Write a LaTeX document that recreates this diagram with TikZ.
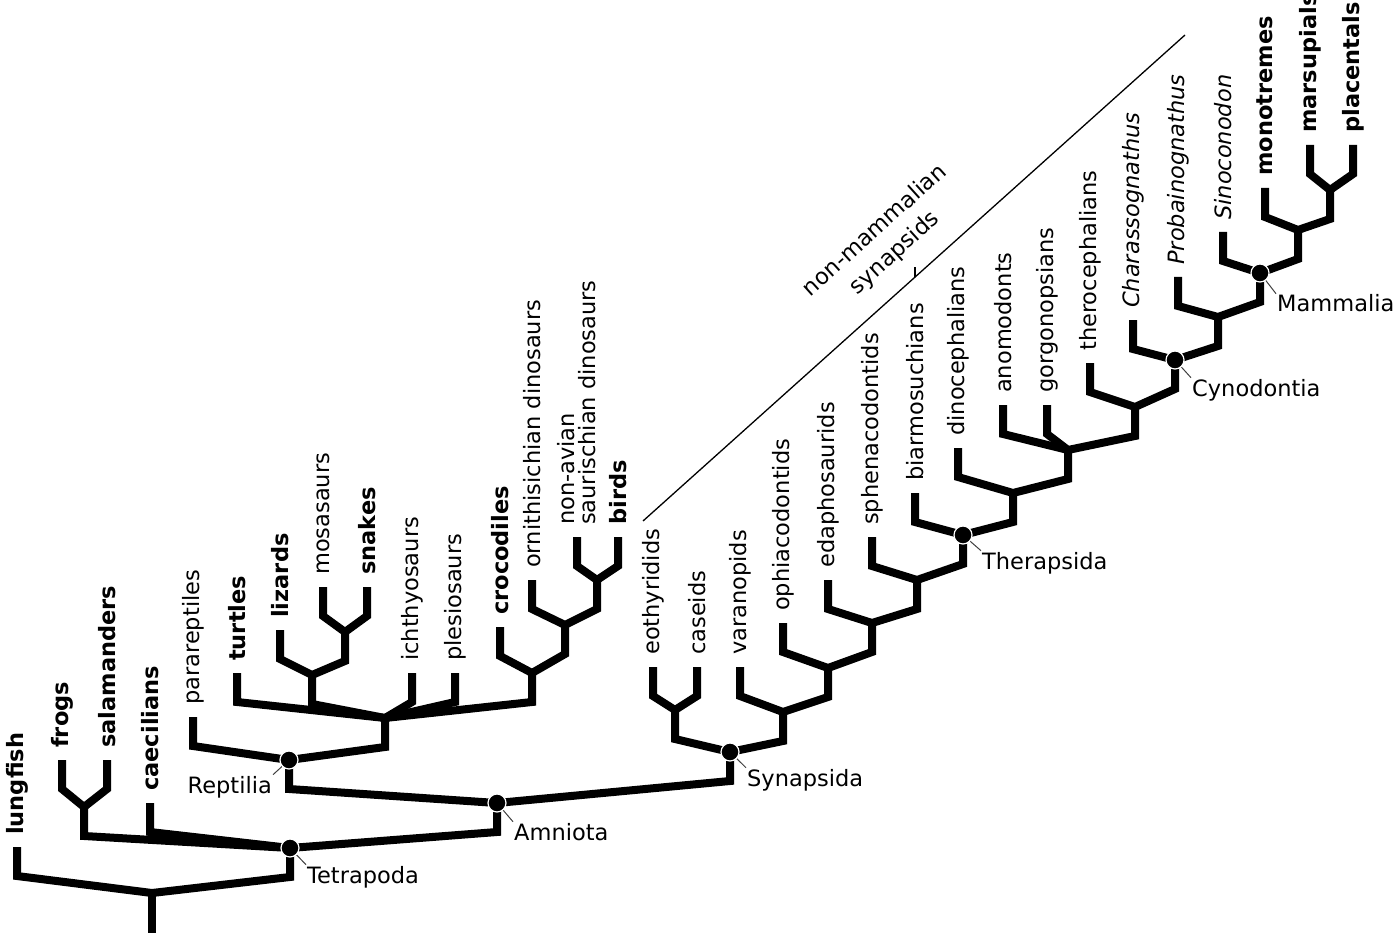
\documentclass[tikz,border=0pt]{standalone}
\usepackage{fontspec}
\setmainfont{DejaVu Sans}
\usetikzlibrary{calc, positioning}
\tikzstyle{branch}=[line width=8pt, line join=miter]
\tikzstyle{tip}=[rotate=90, anchor=west, inner sep=0pt, font=\fontsize{22.5}{21}\selectfont]
\tikzstyle{clade}=[inner sep=1pt, font=\fontsize{22.5}{27}\selectfont]
\tikzstyle{dot}=[circle, fill=black, draw=white, line width=1.2pt, inner sep=0pt, minimum size=18pt]
\tikzstyle{leader}=[line width=1pt, black!75]
\tikzstyle{group}=[line width=1.3pt]

\begin{document}
\begin{tikzpicture}[x=1pt, y=-1pt]
\useasboundingbox (0,0) rectangle (1400,933);
\fill[white] (0,0) rectangle (1400,933);
% the tips (top end of each terminal branch)
\coordinate (lungfish) at (17,847);
\coordinate (frogs) at (62,760);
\coordinate (salamanders) at (107,760);
\coordinate (caecilians) at (150,803);
\coordinate (parareptiles) at (193,717);
\coordinate (turtles) at (237,673);
\coordinate (lizards) at (280,630);
\coordinate (mosasaurs) at (323,587);
\coordinate (snakes) at (367,587);
\coordinate (ichthyosaurs) at (412,673);
\coordinate (plesiosaurs) at (455,673);
\coordinate (crocodiles) at (500,627);
\coordinate (ornithischians) at (532,580);
\coordinate (nonavian) at (577,537);
\coordinate (birds) at (618,537);
\coordinate (eothyridids) at (653,667);
\coordinate (caseids) at (697,667);
\coordinate (varanopids) at (740,667);
\coordinate (ophiacodontids) at (783,623);
\coordinate (edaphosaurids) at (828,580);
\coordinate (sphenacodontids) at (872,537);
\coordinate (biarmosuchians) at (915,493);
\coordinate (dinocephalians) at (958,448);
\coordinate (anomodonts) at (1003,405);
\coordinate (gorgonopsians) at (1047,405);
\coordinate (therocephalians) at (1090,363);
\coordinate (charassognathus) at (1133,320);
\coordinate (probainognathus) at (1178,277);
\coordinate (sinoconodon) at (1223,232);
\coordinate (monotremes) at (1265,188);
\coordinate (marsupials) at (1310,145);
\coordinate (placentals) at (1353,145);
% the inner vertices
\coordinate (root) at (152,893);
\coordinate (rootEnd) at (152,940);
\coordinate (tetrapoda) at (290,848);
\coordinate (batrachia) at (84,807);
\coordinate (amniota) at (497,803);
\coordinate (reptilia) at (289,760);
\coordinate (sauria) at (385,718);
\coordinate (squamata) at (312,675);
\coordinate (pythonomorpha) at (345,632);
\coordinate (archosauria) at (532,673);
\coordinate (dinosauria) at (565,625);
\coordinate (saurischia) at (597,580);
\coordinate (synapsida) at (730,752);
\coordinate (C1) at (675,710);
\coordinate (S1) at (783,712);
\coordinate (S2) at (828,668);
\coordinate (S3) at (872,623);
\coordinate (S4) at (917,580);
\coordinate (therapsida) at (963,535);
\coordinate (T1) at (1013,493);
\coordinate (T2) at (1068,450);
\coordinate (T3) at (1135,407);
\coordinate (cynodontia) at (1175,360);
\coordinate (M0) at (1218,317);
\coordinate (mammalia) at (1260,273);
\coordinate (M1) at (1298,230);
\coordinate (M2) at (1330,190);
% the branches
\draw[branch] (root) -- (rootEnd);
\foreach \j/\l/\r in {root/lungfish/tetrapoda, tetrapoda/batrachia/amniota,
  batrachia/frogs/salamanders, amniota/reptilia/synapsida,
  reptilia/parareptiles/sauria, sauria/turtles/archosauria,
  squamata/lizards/pythonomorpha, pythonomorpha/mosasaurs/snakes,
  archosauria/crocodiles/dinosauria, dinosauria/ornithischians/saurischia,
  saurischia/nonavian/birds, synapsida/C1/S1, C1/eothyridids/caseids,
  S1/varanopids/S2, S2/ophiacodontids/S3, S3/edaphosaurids/S4,
  S4/sphenacodontids/therapsida, therapsida/biarmosuchians/T1,
  T1/dinocephalians/T2, T2/anomodonts/T3, T3/therocephalians/cynodontia,
  cynodontia/charassognathus/M0, M0/probainognathus/mammalia,
  mammalia/sinoconodon/M1, M1/monotremes/M2, M2/marsupials/placentals}
  \draw[branch] (\l) -- ([yshift=-29pt]\l) -- (\j) -- ([yshift=-29pt]\r) -- (\r);
% the extra branches of the polytomies
\foreach \j/\c in {tetrapoda/caecilians, sauria/squamata, sauria/ichthyosaurs,
  sauria/plesiosaurs, T2/gorgonopsians}
  \draw[branch] (\j) -- ([yshift=-29pt]\c) -- (\c);
% the tip labels
\node[tip] at ([yshift=12pt]lungfish) {\bfseries lungfish};
\node[tip] at ([yshift=12pt]frogs) {\bfseries frogs};
\node[tip] at ([yshift=12pt]salamanders) {\bfseries salamanders};
\node[tip] at ([yshift=12pt]caecilians) {\bfseries caecilians};
\node[tip] at ([yshift=12pt]parareptiles) {parareptiles};
\node[tip] at ([yshift=12pt]turtles) {\bfseries turtles};
\node[tip] at ([yshift=12pt]lizards) {\bfseries lizards};
\node[tip] at ([yshift=12pt]mosasaurs) {mosasaurs};
\node[tip] at ([yshift=12pt]snakes) {\bfseries snakes};
\node[tip] at ([yshift=12pt]ichthyosaurs) {ichthyosaurs};
\node[tip] at ([yshift=12pt]plesiosaurs) {plesiosaurs};
\node[tip] at ([yshift=12pt]crocodiles) {\bfseries crocodiles};
\node[tip] at ([yshift=12pt]ornithischians) {ornithisichian dinosaurs};
\node[tip, align=left] at ([yshift=12pt]nonavian) {non-avian\\saurischian dinosaurs};
\node[tip] at ([yshift=12pt]birds) {\bfseries birds};
\node[tip] at ([yshift=12pt]eothyridids) {eothyridids};
\node[tip] at ([yshift=12pt]caseids) {caseids};
\node[tip] at ([yshift=12pt]varanopids) {varanopids};
\node[tip] at ([yshift=12pt]ophiacodontids) {ophiacodontids};
\node[tip] at ([yshift=12pt]edaphosaurids) {edaphosaurids};
\node[tip] at ([yshift=12pt]sphenacodontids) {sphenacodontids};
\node[tip] at ([yshift=12pt]biarmosuchians) {biarmosuchians};
\node[tip] at ([yshift=12pt]dinocephalians) {dinocephalians};
\node[tip] at ([yshift=12pt]anomodonts) {anomodonts};
\node[tip] at ([yshift=12pt]gorgonopsians) {gorgonopsians};
\node[tip] at ([yshift=12pt]therocephalians) {therocephalians};
\node[tip] at ([yshift=12pt]charassognathus) {\itshape Charassognathus};
\node[tip] at ([yshift=12pt]probainognathus) {\itshape Probainognathus};
\node[tip] at ([yshift=12pt]sinoconodon) {\itshape Sinoconodon};
\node[tip] at ([yshift=12pt]monotremes) {\bfseries monotremes};
\node[tip] at ([yshift=12pt]marsupials) {\bfseries marsupials};
\node[tip] at ([yshift=12pt]placentals) {\bfseries placentals};
% the named clades
\node[clade, anchor=base west] (lTetrapoda) at (306,883) {Tetrapoda};
\node[clade, anchor=base east] (lReptilia) at (273,793) {Reptilia};
\node[clade, anchor=base west] (lAmniota) at (513,840) {Amniota};
\node[clade, anchor=base west] (lSynapsida) at (746,786) {Synapsida};
\node[clade, anchor=base west] (lTherapsida) at (981,569) {Therapsida};
\node[clade, anchor=base west] (lCynodontia) at (1191,396) {Cynodontia};
\node[clade, anchor=base west] (lMammalia) at (1276,312) {Mammalia};
\draw[leader] (tetrapoda) -- (lTetrapoda.north west);
\draw[leader] (reptilia) -- (lReptilia.north east);
\draw[leader] (amniota) -- (lAmniota.north west);
\draw[leader] (synapsida) -- (lSynapsida.north west);
\draw[leader] (therapsida) -- (lTherapsida.north west);
\draw[leader] (cynodontia) -- (lCynodontia.north west);
\draw[leader] (mammalia) -- (lMammalia.north west);
\foreach \d in {tetrapoda, reptilia, amniota, synapsida, therapsida, cynodontia, mammalia}
  \node[dot] at (\d) {};
% the paraphyletic group
\coordinate (nmsA) at (643,521);
\coordinate (nmsB) at (1185,35);
\coordinate (nmsTick) at ($(nmsA)!0.502!(nmsB)$);
\draw[group] (nmsA) -- (nmsB);
\draw[group] (nmsTick) -- ([yshift=10pt]nmsTick);
\node[clade, rotate=42, align=center, font=\fontsize{22.5}{30}\selectfont] (lNonMammal) at (885,242) {non-mammalian\\synapsids};
\end{tikzpicture}
\end{document}
